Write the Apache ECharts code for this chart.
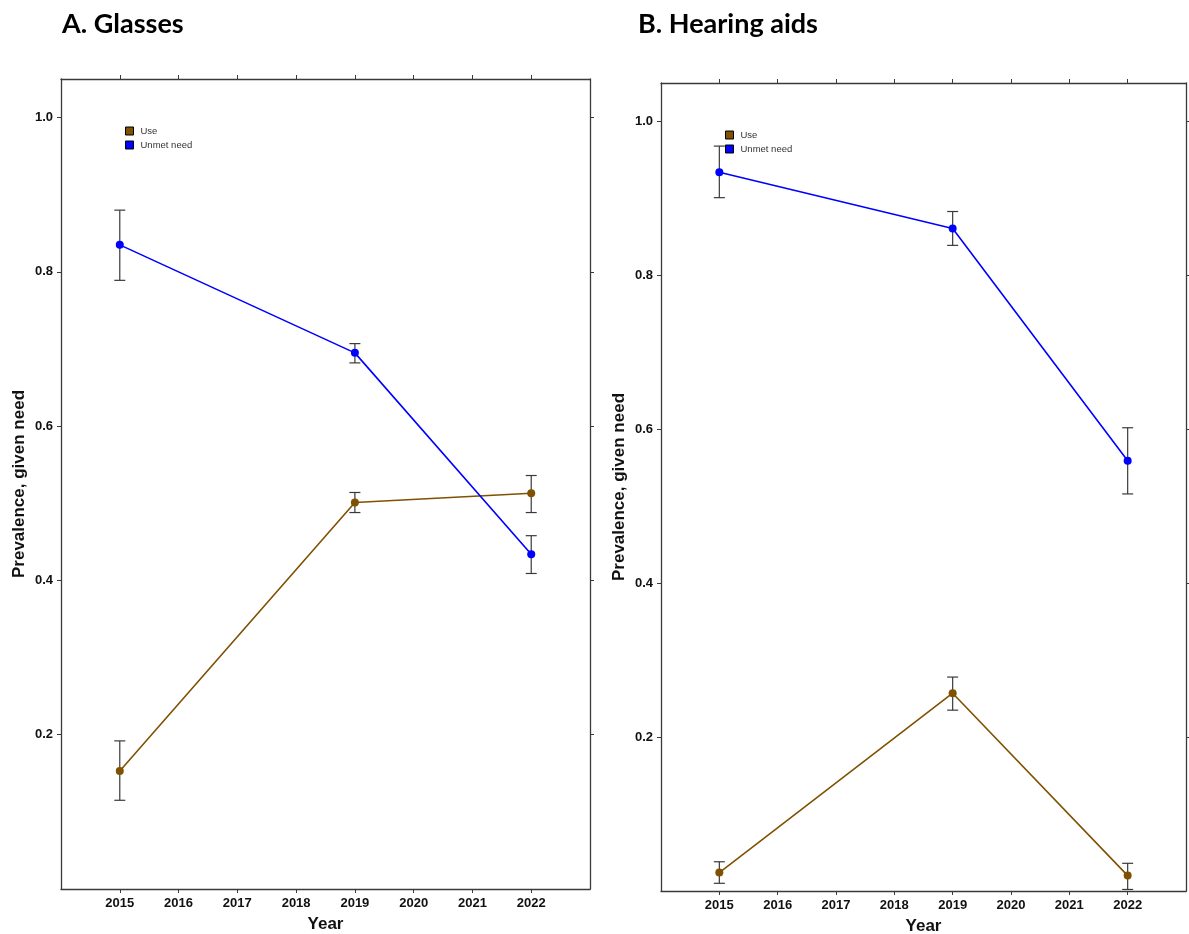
<!DOCTYPE html>
<html>
<head>
<meta charset="utf-8">
<script src="https://cdn.jsdelivr.net/npm/echarts@6/dist/echarts.min.js"></script>
<style>
html,body{margin:0;padding:0;background:#fff;}
#chart{width:1189px;height:934px;}
</style>
</head>
<body>
<div id="chart"></div>
<script>
// ---- data ----
const years = [2015, 2019, 2022];
const xTicks = [2015, 2016, 2017, 2018, 2019, 2020, 2021, 2022];
const yTicks = [0.2, 0.4, 0.6, 0.8, 1.0];

const glassesUse = [0.153, 0.501, 0.513];
const glassesUseLo = [0.115, 0.488, 0.488];
const glassesUseHi = [0.192, 0.514, 0.536];
const glassesUnmet = [0.835, 0.695, 0.434];
const glassesUnmetLo = [0.789, 0.682, 0.409];
const glassesUnmetHi = [0.880, 0.707, 0.458];

const hearingUse = [0.024, 0.257, 0.020];
const hearingUseLo = [0.010, 0.235, 0.002];
const hearingUseHi = [0.038, 0.278, 0.036];
const hearingUnmet = [0.934, 0.861, 0.559];
const hearingUnmetLo = [0.901, 0.839, 0.516];
const hearingUnmetHi = [0.968, 0.883, 0.602];

const panelTitles = ['A. Glasses', 'B. Hearing aids'];
const seriesNames = ['Use', 'Unmet need'];
const yName = 'Prevalence, given need';
const xName = 'Year';

// ---- styling ----
const USE_COLOR = '#7f5100';
const UNMET_COLOR = '#0000ff';
const AXIS_COLOR = '#3a3a3a';
const LABEL_FONT = '"Liberation Sans", Arial, sans-serif';

const chart = echarts.init(document.getElementById('chart'), null, {renderer: 'canvas'});

const grids = [
  {left: 61, top: 79, width: 529, height: 810, containLabel: false, outerBoundsMode: 'none'},
  {left: 661, top: 83, width: 525, height: 808, containLabel: false, outerBoundsMode: 'none'}
];

function pairs(xs, ys) { return xs.map((x, i) => [x, ys[i]]); }
function errRows(xs, lo, hi) { return xs.map((x, i) => [x, lo[i], hi[i]]); }

function renderErr(params, api) {
  const x = api.value(0), lo = api.value(1), hi = api.value(2);
  const p1 = api.coord([x, hi]);
  const p2 = api.coord([x, lo]);
  const w = 5.5;
  const st = {stroke: '#3a3a3a', lineWidth: 1.2};
  return {
    type: 'group',
    children: [
      {type: 'line', shape: {x1: p1[0], y1: p1[1], x2: p2[0], y2: p2[1]}, style: st},
      {type: 'line', shape: {x1: p1[0] - w, y1: p1[1], x2: p1[0] + w, y2: p1[1]}, style: st},
      {type: 'line', shape: {x1: p2[0] - w, y1: p2[1], x2: p2[0] + w, y2: p2[1]}, style: st}
    ]
  };
}

const xAxes = [];
const yAxes = [];
[0, 1].forEach(g => {
  // bottom
  xAxes.push({
    type: 'value', gridIndex: g, min: 2014, max: 2023, position: 'bottom',
    splitLine: {show: false},
    axisLine: {show: true, onZero: false, lineStyle: {color: AXIS_COLOR, width: 1.3}},
    axisTick: {show: true, length: 4, customValues: xTicks, lineStyle: {color: AXIS_COLOR}},
    axisLabel: {customValues: xTicks, margin: 8, color: '#111', fontFamily: LABEL_FONT, fontWeight: 'bold', fontSize: 13,
      formatter: v => String(Math.round(v))},
    name: xName, nameLocation: 'middle', nameGap: 27,
    nameTextStyle: {color: '#111', fontFamily: LABEL_FONT, fontWeight: 'bold', fontSize: 17}
  });
  // top
  xAxes.push({
    type: 'value', gridIndex: g, min: 2014, max: 2023, position: 'top',
    splitLine: {show: false},
    axisLine: {show: true, onZero: false, lineStyle: {color: AXIS_COLOR, width: 1.3}},
    axisTick: {show: true, length: 4, customValues: xTicks, lineStyle: {color: AXIS_COLOR}},
    axisLabel: {show: false}
  });
  // left
  yAxes.push({
    type: 'value', gridIndex: g, min: 0, max: 1.05, position: 'left',
    splitLine: {show: false},
    axisLine: {show: true, onZero: false, lineStyle: {color: AXIS_COLOR, width: 1.3}},
    axisTick: {show: true, length: 4, customValues: yTicks, lineStyle: {color: AXIS_COLOR}},
    axisLabel: {customValues: yTicks, margin: 8, color: '#111', fontFamily: LABEL_FONT, fontWeight: 'bold', fontSize: 13,
      formatter: v => Number(v).toFixed(1)},
    name: yName, nameLocation: 'middle', nameGap: 33,
    nameTextStyle: {color: '#111', fontFamily: LABEL_FONT, fontWeight: 'bold', fontSize: 17}
  });
  // right
  yAxes.push({
    type: 'value', gridIndex: g, min: 0, max: 1.05, position: 'right',
    splitLine: {show: false},
    axisLine: {show: true, onZero: false, lineStyle: {color: AXIS_COLOR, width: 1.3}},
    axisTick: {show: true, length: 4, customValues: yTicks, lineStyle: {color: AXIS_COLOR}},
    axisLabel: {show: false}
  });
});

const panels = [
  {use: glassesUse, useLo: glassesUseLo, useHi: glassesUseHi, unmet: glassesUnmet, unmetLo: glassesUnmetLo, unmetHi: glassesUnmetHi},
  {use: hearingUse, useLo: hearingUseLo, useHi: hearingUseHi, unmet: hearingUnmet, unmetLo: hearingUnmetLo, unmetHi: hearingUnmetHi}
];

const series = [];
panels.forEach((p, g) => {
  const xi = g * 2, yi = g * 2;
  [['use', USE_COLOR, 0], ['unmet', UNMET_COLOR, 1]].forEach(([k, col, ni]) => {
    series.push({
      type: 'custom', name: 'err' + g + k, xAxisIndex: xi, yAxisIndex: yi,
      renderItem: renderErr, z: 1, silent: true,
      data: errRows(years, p[k + 'Lo'], p[k + 'Hi'])
    });
    series.push({
      type: 'line', name: seriesNames[ni], xAxisIndex: xi, yAxisIndex: yi,
      data: pairs(years, p[k]), z: 3,
      symbol: 'circle', symbolSize: 8, showSymbol: true,
      lineStyle: {color: col, width: 1.6},
      itemStyle: {color: col, borderColor: col, borderWidth: 0},
      emphasis: {disabled: true}, animation: false
    });
  });
});

const legendCommon = {
  orient: 'vertical', icon: 'rect', itemWidth: 8, itemHeight: 8, itemGap: 4,
  data: seriesNames,
  itemStyle: {borderColor: '#000', borderWidth: 1},
  textStyle: {fontFamily: LABEL_FONT, fontSize: 9.5, color: '#333', lineHeight: 10, padding: [0, 0, 0, 2]},
  selectedMode: false
};

chart.setOption({
  animation: false,
  backgroundColor: '#fff',
  title: [
    {text: panelTitles[0], left: 57, top: 6, textStyle: {fontFamily: 'Lato, "Open Sans", sans-serif', fontWeight: 'bold', fontSize: 27, color: '#000'}},
    {text: panelTitles[1], left: 633, top: 6, textStyle: {fontFamily: 'Lato, "Open Sans", sans-serif', fontWeight: 'bold', fontSize: 27, color: '#000'}}
  ],
  legend: [
    Object.assign({left: 120, top: 121}, legendCommon),
    Object.assign({left: 720, top: 125}, legendCommon)
  ],
  grid: grids,
  xAxis: xAxes,
  yAxis: yAxes,
  series: series
});
</script>
</body>
</html>
